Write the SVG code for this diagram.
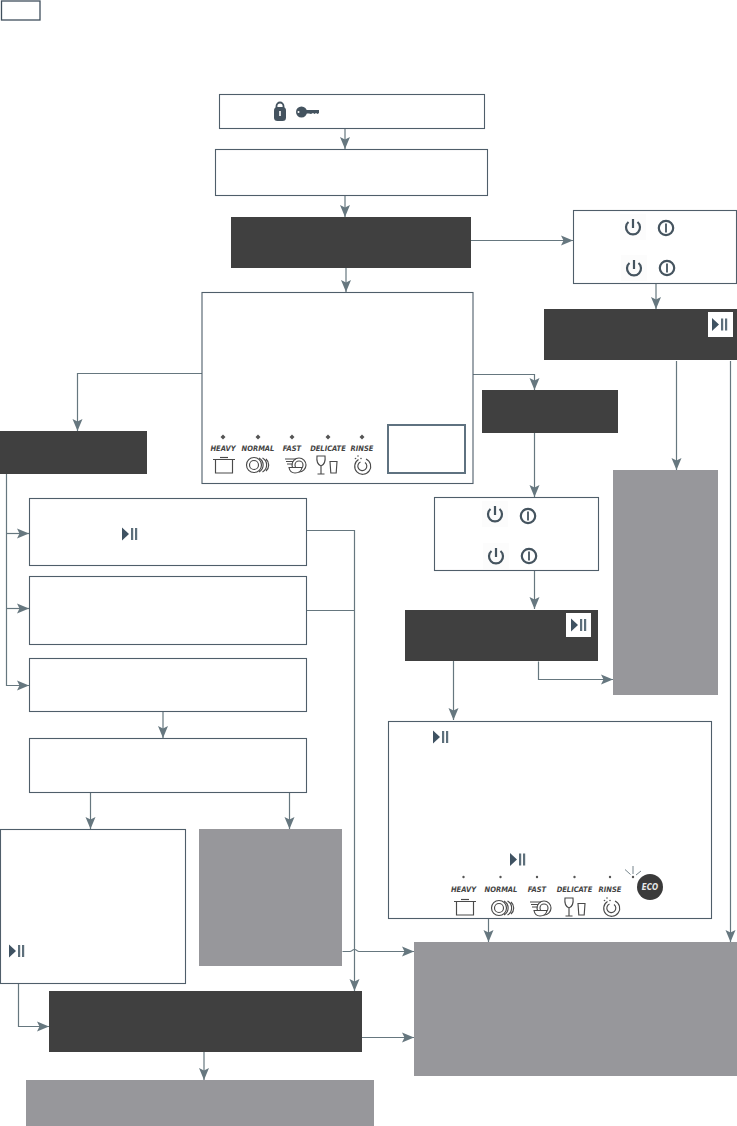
<svg xmlns="http://www.w3.org/2000/svg" width="737" height="1126" viewBox="0 0 737 1126">
<style>
.box{fill:#fff;stroke:#4f5e6a;stroke-width:1.1}
.dark{fill:#404040}
.gray{fill:#97979b}
.conn{fill:none;stroke:#66777f;stroke-width:1.2}
.ic{fill:none;stroke:#45545f;stroke-width:2.2}
.pic{fill:none;stroke:#4a4a4a;stroke-width:1.15}
.lbl{font-family:"DejaVu Sans Condensed","DejaVu Sans",sans-serif;font-size:7.5px;font-weight:bold;font-style:italic;fill:#444;text-anchor:middle}
.dot{fill:#555}
</style>
<defs>
<marker id="ah" markerUnits="userSpaceOnUse" markerWidth="13" markerHeight="11" refX="12" refY="5.500" orient="auto"><path d="M0 .5L12 5.500L0 10.500L2.500 5.500Z" fill="#66777f"/></marker>
<g id="play"><path d="M-8-6.500L-1 0L-8 6.500Z" fill="#3f5262"/><rect x="1" y="-6" width="2.200" height="12" fill="#5d6f7b"/><rect x="5" y="-6" width="2.200" height="12" fill="#5d6f7b"/></g>
<g id="pwr"><rect x="-13" y="-13" width="26" height="26" fill="#fcfcfc"/><path class="ic" d="M-4.500 -5A7 7 0 1 0 4.500 -5"/><path class="ic" d="M0 -8V1"/></g>
<g id="onoff"><circle class="ic" r="7.200"/><path d="M0-4.500V4.500" stroke="#45545f" stroke-width="1.800"/></g>
<g id="pot"><path class="pic" d="M-8.500-5.500H8.500V8H-8.500ZM-11-5.500H11" stroke-width="1.300"/><path class="pic" d="M-4-7.500H4"/></g>
<g id="plates"><circle class="pic" cx="-4" r="7.500"/><circle class="pic" cx="-4" r="4.500"/><path class="pic" d="M1-7A8 8 0 0 1 1 7M4.500-7A8 8 0 0 1 4.500 7M8-6A8 8 0 0 1 8 6"/></g>
<g id="fastp"><circle class="pic" cx="3" r="7"/><circle class="pic" cx="3" r="4"/><path d="M-7 2.500H6Q5 8-1 8Q-6 8-7 2.500Z" fill="#fff" stroke="#4a4a4a" stroke-width="1.150"/><path class="pic" d="M-11-6H0M-10-3.500H-3M-9-1H-3"/></g>
<g id="glass"><path class="pic" d="M-11-9H-3Q-2-1-7 1Q-12-1-11-9ZM-7 1V9M-10.500 9H-3.500M2-3.500H9L8.200 8H2.800Z" stroke-width="1.250"/></g>
<g id="rinse"><path class="pic" d="M-3.500-5.500A8 8 0 1 0 4-6"/><path class="pic" d="M-1.500-3A4.500 4.500 0 1 0 3-2.500"/><circle class="dot" cx="-4" cy="-9" r=".8"/><circle class="dot" cx="-1" cy="-6.500" r=".8"/><circle class="dot" cx="-6.500" cy="-6.500" r=".8"/></g>
</defs>
<rect width="737" height="1126" fill="#fff"/>

<g id="legend"><rect x="1.500" y="1" width="38.500" height="19" fill="#fff" stroke="#3f4f5c" stroke-width="1.300"/></g>

<g id="connectors">
<path class="conn" marker-end="url(#ah)" d="M345 128.500V149"/>
<path class="conn" marker-end="url(#ah)" d="M345 195.500V217"/>
<path class="conn" marker-end="url(#ah)" d="M346 268V292"/>
<path class="conn" marker-end="url(#ah)" d="M471 240.500H573"/>
<path class="conn" marker-end="url(#ah)" d="M656 283.500V309"/>
<path class="conn" marker-end="url(#ah)" d="M202 373.500H77.500V431"/>
<path class="conn" marker-end="url(#ah)" d="M473 374.500H534.500V390"/>
<path class="conn" marker-end="url(#ah)" d="M534.500 433V497"/>
<path class="conn" marker-end="url(#ah)" d="M534.500 570.500V609"/>
<path class="conn" marker-end="url(#ah)" d="M453.500 661V720"/>
<path class="conn" marker-end="url(#ah)" d="M538.500 661.500V679.500H613"/>
<path class="conn" marker-end="url(#ah)" d="M676.500 361V470"/>
<path class="conn" marker-end="url(#ah)" d="M730.500 361V942"/>
<path class="conn" marker-end="url(#ah)" d="M6.500 474V685.500H29"/>
<path class="conn" marker-end="url(#ah)" d="M6.500 533.500H29"/>
<path class="conn" marker-end="url(#ah)" d="M6.500 608.500H29"/>
<path class="conn" marker-end="url(#ah)" d="M306.500 530.500H354.500V991"/>
<path class="conn" d="M306.500 610.500H354.500"/>
<path class="conn" marker-end="url(#ah)" d="M163 711.500V738"/>
<path class="conn" marker-end="url(#ah)" d="M90.500 792.500V829"/>
<path class="conn" marker-end="url(#ah)" d="M289.500 792.500V829"/>
<path class="conn" marker-end="url(#ah)" d="M342.500 951.500H350C352 951.500 352 949.500 354.500 949.500C357 949.500 357 951.500 359 951.500H414"/>
<path class="conn" marker-end="url(#ah)" d="M362 1037.500H414"/>
<path class="conn" marker-end="url(#ah)" d="M18.500 983.500V1026.500H49"/>
<path class="conn" marker-end="url(#ah)" d="M204 1052V1080"/>
<path class="conn" marker-end="url(#ah)" d="M488.500 918.500V942"/>
</g>

<g id="node-start"><rect class="box" x="219.500" y="94.500" width="265" height="34"/>
<path d="M276.500 108.500V106A3.500 3.500 0 0 1 283.500 106V108.500" fill="none" stroke="#44535f" stroke-width="1.800"/><rect x="274" y="107" width="12" height="14" rx="3.500" fill="#44535f"/><rect x="279.200" y="111" width="1.600" height="5" fill="#fff"/>
<circle cx="301.500" cy="112" r="5.500" fill="#44535f"/><path d="M304 110H319V113L317.500 114L316 113L314.500 114L313 113L311 114L309 113.500H304Z" fill="#44535f"/><circle cx="298.500" cy="112" r="1" fill="#fff"/></g>
<g id="node-2"><rect class="box" x="215.500" y="149.500" width="272" height="46"/></g>
<g id="node-dark1"><rect class="dark" x="231" y="217" width="240" height="51"/></g>
<g id="node-panel"><rect class="box" x="202" y="292.500" width="271" height="191"/>
<rect x="388" y="425" width="77" height="48" fill="#fff" stroke="#5f7280" stroke-width="2"/>
<path class="dot" d="M223 434.500l2.500 2.500l-2.500 2.500l-2.500-2.500ZM258 434.500l2.500 2.500l-2.500 2.500l-2.500-2.500ZM292 434.500l2.500 2.500l-2.500 2.500l-2.500-2.500ZM328 434.500l2.500 2.500l-2.500 2.500l-2.500-2.500ZM362 434.500l2.500 2.500l-2.500 2.500l-2.500-2.500Z"/>
<text class="lbl" x="223" y="451">HEAVY</text><text class="lbl" x="258" y="451">NORMAL</text><text class="lbl" x="292" y="451">FAST</text><text class="lbl" x="328" y="451">DELICATE</text><text class="lbl" x="362" y="451">RINSE</text>
<use href="#pot" x="224" y="465"/><use href="#plates" x="258" y="465"/><use href="#fastp" x="296" y="465"/><use href="#glass" x="328" y="465"/><use href="#rinse" x="362" y="465"/></g>

<g id="node-right1"><rect class="box" x="573.500" y="210.500" width="163" height="73"/>
<use href="#pwr" x="633" y="227"/><use href="#onoff" x="666" y="228"/><use href="#pwr" x="634" y="268"/><use href="#onoff" x="667" y="268"/></g>
<g id="node-dark-right"><rect class="dark" x="544" y="309" width="193" height="51"/><rect x="708" y="312" width="25" height="25" fill="#fff"/><use href="#play" x="720" y="324.500"/></g>
<g id="node-dark-mid"><rect class="dark" x="482" y="390" width="136" height="43"/></g>
<g id="node-mid-box"><rect class="box" x="434.500" y="497.500" width="164" height="73"/>
<use href="#pwr" x="495" y="514"/><use href="#onoff" x="528" y="516"/><use href="#pwr" x="496" y="556"/><use href="#onoff" x="529" y="556"/></g>
<g id="node-dark-mid2"><rect class="dark" x="405" y="610" width="193" height="51"/><rect x="566" y="613" width="25" height="24" fill="#fff"/><use href="#play" x="579" y="625"/></g>
<g id="node-gray-right"><rect class="gray" x="613" y="470" width="105" height="225"/></g>
<g id="node-big"><rect class="box" x="388.500" y="721.500" width="323" height="197"/>
<use href="#play" x="441" y="737"/><use href="#play" x="518" y="859.500"/>
<g class="dot"><circle cx="463.500" cy="877" r="1.200"/><circle cx="500.500" cy="877" r="1.200"/><circle cx="537" cy="877" r="1.200"/><circle cx="574.500" cy="877" r="1.200"/><circle cx="610" cy="877" r="1.200"/><circle cx="633" cy="877" r="1.200"/></g>
<path d="M633 866V874M625 869.500L630.500 874.500M641 871L636 875" fill="none" stroke="#66777f" stroke-width=".9"/>
<text class="lbl" x="463.500" y="892">HEAVY</text><text class="lbl" x="501" y="892">NORMAL</text><text class="lbl" x="537" y="892">FAST</text><text class="lbl" x="574.500" y="892">DELICATE</text><text class="lbl" x="610" y="892">RINSE</text>
<use href="#pot" x="465" y="907"/><use href="#plates" x="503" y="908"/><use href="#fastp" x="541" y="908"/><use href="#glass" x="576" y="907"/><use href="#rinse" x="611" y="907"/>
<circle cx="650" cy="887" r="13" fill="#3a3a3a"/><text class="lbl" x="650" y="890" style="fill:#e8e8e8;font-size:8px">ECO</text></g>
<g id="node-gray-big"><rect class="gray" x="414" y="942" width="323" height="134"/></g>
<g id="node-dark-left"><rect class="dark" x="0" y="431" width="147" height="43"/></g>
<g id="node-a"><rect class="box" x="29.500" y="498.500" width="277" height="67"/><use href="#play" x="130" y="534"/></g>
<g id="node-b"><rect class="box" x="29.500" y="576.500" width="277" height="68"/></g>
<g id="node-c"><rect class="box" x="29.500" y="658.500" width="277" height="53"/></g>
<g id="node-d"><rect class="box" x="29.500" y="738.500" width="277" height="54"/></g>
<g id="node-e"><rect class="box" x="0.500" y="829.500" width="185" height="154"/><use href="#play" x="17" y="951"/></g>
<g id="node-f"><rect class="gray" x="199" y="829" width="143" height="137"/></g>
<g id="node-dark-bottom"><rect class="dark" x="49" y="991" width="313" height="61"/></g>
<g id="node-gray-bottom"><rect class="gray" x="26" y="1080" width="348" height="46"/></g>
</svg>
